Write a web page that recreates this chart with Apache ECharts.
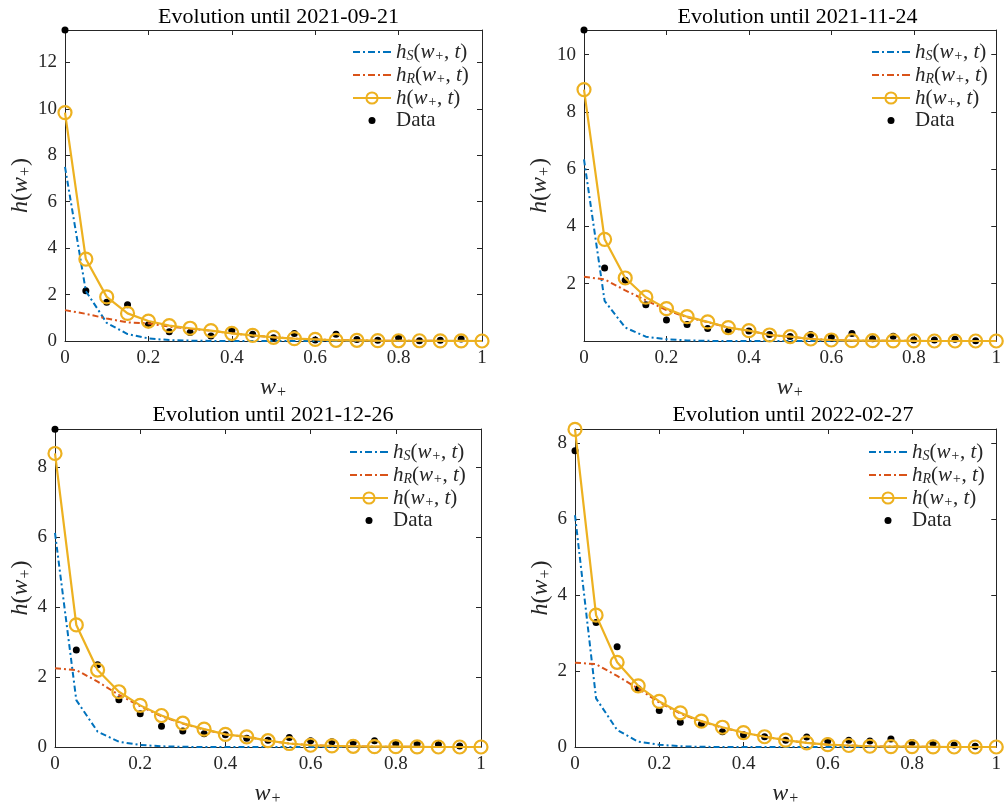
<!DOCTYPE html>
<html><head><meta charset="utf-8">
<script src="https://cdn.jsdelivr.net/npm/echarts@6/dist/echarts.min.js"></script>
<style>html,body{margin:0;padding:0;background:#fff}#c{width:1004px;height:809px}</style>
</head><body><div id="c"></div>
<script>
const wPlus = [0,0.05,0.1,0.15,0.2,0.25,0.3,0.35,0.4,0.45,0.5,0.55,0.6,0.65,0.7,0.75,0.8,0.85,0.9,0.95,1];
const xTicks = [0,0.2,0.4,0.6,0.8,1];

const titles = ['Evolution until 2021-09-21','Evolution until 2021-11-24','Evolution until 2021-12-26','Evolution until 2022-02-27'];

const hS1 = [7.5,2.15,0.78,0.3,0.11,0.04,0.015,0.005,0,0,0,0,0,0,0,0,0,0,0,0,0];
const hR1 = [1.33,1.17,0.97,0.8,0.76,0.62,0.53,0.44,0.33,0.24,0.16,0.1,0.07,0.03,0.03,0.015,0.01,0.01,0.005,0.005,0];
const h1  = [9.84,3.53,1.9,1.19,0.86,0.66,0.55,0.45,0.33,0.24,0.16,0.1,0.07,0.03,0.03,0.015,0.01,0.01,0.005,0.005,0];
const data1 = [13.4,2.17,1.67,1.56,0.7,0.4,0.37,0.22,0.45,0.29,0.14,0.32,0.04,0.29,0.07,0.03,0.14,0.01,0.03,0.09];
const yTicks1 = [0,2,4,6,8,10,12];
const yMax1 = 13.4;

const hS2 = [6.34,1.4,0.47,0.15,0.06,0.02,0.005,0,0,0,0,0,0,0,0,0,0,0,0,0,0];
const hR2 = [2.24,2.15,1.77,1.42,1.08,0.83,0.66,0.47,0.36,0.21,0.15,0.07,0.035,0.01,0.01,0.005,0.005,0,0,0,0];
const h2  = [8.78,3.55,2.2,1.53,1.13,0.85,0.67,0.47,0.36,0.21,0.15,0.07,0.035,0.01,0.01,0.005,0.005,0,0,0,0];
const data2 = [10.86,2.55,2.12,1.27,0.73,0.58,0.44,0.34,0.35,0.23,0.16,0.23,0.14,0.26,0.08,0.17,0.035,0.035,0.06,0.01];
const yTicks2 = [2,4,6,8,10];
const yMax2 = 10.86;

const hS3 = [6.12,1.34,0.44,0.15,0.06,0.02,0.005,0,0,0,0,0,0,0,0,0,0,0,0,0,0];
const hR3 = [2.25,2.2,1.87,1.49,1.17,0.88,0.67,0.5,0.36,0.29,0.18,0.1,0.05,0.03,0.02,0.01,0.01,0.005,0,0,0];
const h3  = [8.39,3.49,2.2,1.58,1.19,0.9,0.68,0.51,0.36,0.29,0.18,0.1,0.05,0.03,0.02,0.01,0.01,0.005,0,0,0];
const data3 = [9.08,2.77,2.35,1.35,0.95,0.59,0.46,0.38,0.35,0.25,0.19,0.27,0.18,0.15,0.13,0.18,0.09,0.09,0.07,0.03];
const yTicks3 = [0,2,4,6,8];
const yMax3 = 9.09;

const hS4 = [6.1,1.28,0.45,0.14,0.06,0.02,0.005,0,0,0,0,0,0,0,0,0,0,0,0,0,0];
const hR4 = [2.22,2.18,1.87,1.54,1.17,0.88,0.67,0.51,0.38,0.27,0.18,0.11,0.06,0.04,0.02,0.01,0.01,0.005,0,0,0];
const h4  = [8.36,3.47,2.23,1.61,1.2,0.9,0.68,0.52,0.38,0.27,0.18,0.11,0.06,0.04,0.02,0.01,0.01,0.005,0,0,0];
const data4 = [7.8,3.28,2.64,1.53,0.96,0.65,0.6,0.4,0.32,0.27,0.18,0.26,0.16,0.18,0.16,0.21,0.12,0.1,0.05,0.02];
const yTicks4 = [0,2,4,6,8];
const yMax4 = 8.37;

const panels = [
  {hS:hS1,hR:hR1,h:h1,d:data1,ticks:yTicks1,max:yMax1,g:{left:65,top:30,width:417,height:311},tTop:1,nameGap:31,lg:{left:352,top:41}},
  {hS:hS2,hR:hR2,h:h2,d:data2,ticks:yTicks2,max:yMax2,g:{left:584,top:30,width:417,height:311},tTop:1,nameGap:31,lg:{left:871,top:41}},
  {hS:hS3,hR:hR3,h:h3,d:data3,ticks:yTicks3,max:yMax3,g:{left:55,top:429,width:426,height:318},tTop:399,nameGap:22,lg:{left:349,top:441}},
  {hS:hS4,hR:hR4,h:h4,d:data4,ticks:yTicks4,max:yMax4,g:{left:575,top:429,width:426,height:318},tTop:399,nameGap:22,lg:{left:868,top:441}}
];

const F = 'Liberation Serif';
const AX = '#262626';
const BLUE = '#0072BD', RED = '#D95319', YEL = '#EDB120';
const DASHDOT = [6,3,2,3];

function richSet(fs, lh, sub) {
  return {
    i: {fontFamily:F, fontStyle:'italic', fontSize:fs, color:AX, lineHeight:lh},
    n: {fontFamily:F, fontSize:fs, color:AX, lineHeight:lh},
    s: {fontFamily:F, fontStyle:'italic', fontSize:Math.round(fs*0.68), color:AX, padding:[sub,0,0,0], lineHeight:lh}
  };
}
const legendText = {
  hS: '{i|h}{s|S}{n|(}{i|w}{s|+}{n|, }{i|t}{n|)}',
  hR: '{i|h}{s|R}{n|(}{i|w}{s|+}{n|, }{i|t}{n|)}',
  h: '{i|h}{n|(}{i|w}{s|+}{n|, }{i|t}{n|)}',
  Data: '{n|Data}'
};
const dashIcon = 'path://M0,0h7v2h-7zM10,0h2v2h-2zM15,0h7v2h-7zM25,0h2v2h-2zM30,0h8v2h-8z';
const dotIcon = 'path://M0,0M38,14M15.5,7a3.5,3.5 0 1,0 7,0a3.5,3.5 0 1,0 -7,0z';

const option = {animation:false, backgroundColor:'#fff', title:[], grid:[], xAxis:[], yAxis:[], legend:[], series:[]};

panels.forEach((p, k) => {
  option.title.push({text:titles[k], left:p.g.left + p.g.width/2, top:p.tTop, textAlign:'center',
    textStyle:{fontFamily:F, fontSize:22, fontWeight:'normal', color:'#000'}});
  option.grid.push(Object.assign({containLabel:false}, p.g));
  const tickCommon = {show:true, inside:true, length:5, lineStyle:{color:AX, width:1}};
  const lineCommon = {show:true, onZero:false, lineStyle:{color:AX, width:1}};
  option.xAxis.push({type:'value', gridIndex:k, min:0, max:1, interval:0.2, position:'bottom',
    axisLine:lineCommon, axisTick:tickCommon, splitLine:{show:false},
    axisLabel:{fontFamily:F, fontSize:19, color:AX, margin:8, formatter:v => xTicks.includes(+v.toFixed(2)) ? String(+v.toFixed(2)) : ''},
    name:'{i|w}{s|+}', nameLocation:'middle', nameGap:35, nameTextStyle:{rich:richSet(24, 24, 10)}});
  option.xAxis.push({type:'value', gridIndex:k, min:0, max:1, interval:0.2, position:'top',
    axisLine:lineCommon, axisTick:tickCommon, splitLine:{show:false}, axisLabel:{show:false}});
  const ticks = p.ticks;
  option.yAxis.push({type:'value', gridIndex:k, min:0, max:p.max, interval:2, position:'left',
    axisLine:lineCommon, axisTick:tickCommon, splitLine:{show:false},
    axisLabel:{fontFamily:F, fontSize:19, color:AX, margin:8, showMaxLabel:false, formatter:v => ticks.includes(v) ? String(v) : ''},
    name:'{i|h}{n|(}{i|w}{s|+}{n|)}', nameLocation:'middle', nameGap:p.nameGap, nameTextStyle:{rich:richSet(24, 24, 10)}});
  option.yAxis.push({type:'value', gridIndex:k, min:0, max:p.max, interval:2, position:'right',
    axisLine:lineCommon, axisTick:tickCommon, splitLine:{show:false}, axisLabel:{show:false}});
  const xi = 2*k, yi = 2*k;
  const pts = arr => arr.map((v,i) => [wPlus[i], v]);
  option.series.push({name:'hS', type:'line', xAxisIndex:xi, yAxisIndex:yi, data:pts(p.hS), symbol:'none', clip:false,
    lineStyle:{color:BLUE, width:2, type:DASHDOT}, itemStyle:{color:BLUE}});
  option.series.push({name:'hR', type:'line', xAxisIndex:xi, yAxisIndex:yi, data:pts(p.hR), symbol:'none', clip:false,
    lineStyle:{color:RED, width:2, type:DASHDOT}, itemStyle:{color:RED}});
  option.series.push({name:'h', type:'line', xAxisIndex:xi, yAxisIndex:yi, data:pts(p.h), symbol:'circle', symbolSize:13, clip:false,
    lineStyle:{color:YEL, width:2.2}, itemStyle:{color:'rgba(0,0,0,0)', borderColor:YEL, borderWidth:2.2}});
  option.series.push({name:'Data', type:'scatter', xAxisIndex:xi, yAxisIndex:yi, data:pts(p.d), symbol:'circle', symbolSize:7, clip:false,
    itemStyle:{color:'#000', opacity:1}});
  option.legend.push({orient:'vertical', left:p.lg.left, top:p.lg.top, itemWidth:38, itemHeight:14, itemGap:1, padding:0,
    selectedMode:false,
    data:[
      {name:'hS', icon:dashIcon, itemStyle:{color:BLUE, borderWidth:0}},
      {name:'hR', icon:dashIcon, itemStyle:{color:RED, borderWidth:0}},
      {name:'h'},
      {name:'Data', icon:dotIcon, itemStyle:{color:'#000', borderWidth:0, opacity:1}}
    ],
    formatter:n => legendText[n],
    textStyle:{rich:richSet(21, 18, 8)}});
});

const chart = echarts.init(document.getElementById('c'), null, {renderer:'canvas'});
chart.setOption(option);
</script>
</body></html>
